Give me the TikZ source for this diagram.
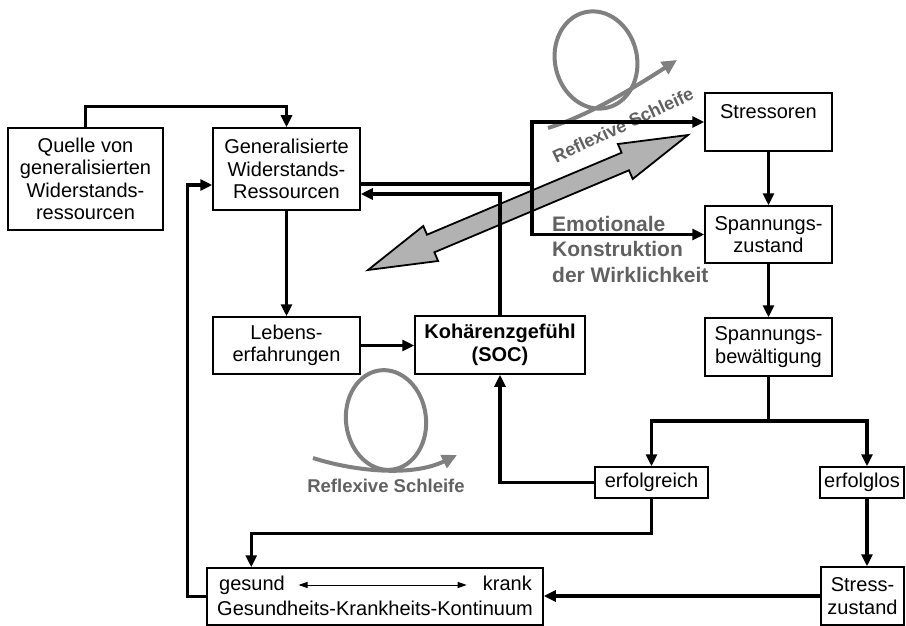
\documentclass[tikz,border=0pt]{standalone}
\usepackage{fontspec}
\setmainfont{Liberation Sans}
\usetikzlibrary{arrows.meta,calc}

\definecolor{loopgray}{gray}{0.5}
\definecolor{labelgray}{gray}{0.38}
\definecolor{arrowfill}{gray}{0.7}

\newcommand{\dgfont}{\fontsize{20}{22.5}\selectfont}
\newcommand{\dgbold}{\fontsize{18.5}{22}\selectfont\bfseries}
\newcommand{\dgboldsmall}{\fontsize{18}{22}\selectfont\bfseries}
\newcommand{\dgemo}{\fontsize{21}{25.5}\selectfont\bfseries}

\begin{document}
\begin{tikzpicture}[x=1pt,y=-1pt,
  box/.style={draw=black,line width=1.5pt,align=center,inner sep=0pt,font=\dgfont},
  txt/.style={inner sep=0pt,font=\dgfont},
  wire/.style={line width=3.2pt},
  conn/.style={wire,-{Triangle[length=12pt,width=11pt]}},
  loopline/.style={draw=loopgray,line width=4pt},
  looparrow/.style={loopline,-{Triangle[length=15pt,width=14pt]}},
  looptext/.style={inner sep=0pt,text=labelgray,font=\dgbold},
]
\useasboundingbox (0,0) rectangle (906,626);

% broad two-headed arrow between the resources and the stressors
\filldraw[fill=arrowfill,draw=black,line width=1.8pt,line join=miter]
  (688,135) -- (632.7,179) -- (629,170.3) -- (434.4,252.3) -- (438.1,261)
  -- (368,270) -- (423.3,226) -- (427,234.7) -- (621.6,152.7) -- (617.9,144) -- cycle;

% upper reflexive loop
\draw[loopline,rotate around={13:(596,60)}] (596,60) ellipse [x radius=41,y radius=49];
\draw[looparrow] (548,128) .. controls (580,118) and (615,100) .. (677,60);
\node[looptext,font=\dgboldsmall,rotate=25] (reflexup) at (623,125) {Reflexive Schleife};

% lower reflexive loop
\draw[loopline,rotate around={7:(386,420)}] (386,420) ellipse [x radius=40,y radius=50];
\draw[looparrow] (313,458) .. controls (350,470) and (410,478) .. (457,455);
\node[looptext] (reflexlow) at (386,486) {Reflexive Schleife};

\node[inner sep=0pt,text=labelgray,font=\dgemo,align=left,anchor=north west] (emotion)
  at (552,216) {Emotionale\\Konstruktion\\der Wirklichkeit};

% boxes
\node[box,minimum width=155pt,minimum height=102pt] (quelle) at (85.5,179)
  {Quelle von\\generalisierten\\Widerstands-\\ressourcen};
\node[box,minimum width=147pt,minimum height=82pt] (gen) at (286.5,169)
  {Generalisierte\\Widerstands-\\Ressourcen};
\node[box,minimum width=147pt,minimum height=57pt] (lebens) at (286.5,345.5)
  {Lebens-\\erfahrungen};
\node[box,minimum width=170pt,minimum height=58pt,font=\dgfont\bfseries] (soc) at (500,345)
  {Kohärenzgefühl\\(SOC)};
\node[box,minimum width=127pt,minimum height=58pt] (stress) at (768.5,122) {};
\node[txt,anchor=base] (stresstext) at (768.5,118) {Stressoren};
\node[box,minimum width=127pt,minimum height=57pt] (spannz) at (768.5,234.5)
  {Spannungs-\\zustand};
\node[box,minimum width=127pt,minimum height=58pt] (spannb) at (768.5,347)
  {Spannungs-\\bewältigung};
\node[box,minimum width=113pt,minimum height=31pt] (erfg) at (651.5,482.5) {erfolgreich};
\node[box,minimum width=84pt,minimum height=31pt] (erfl) at (862,482.5) {erfolglos};
\node[box,minimum width=83pt,minimum height=58pt] (stressz) at (862.5,596)
  {Stress-\\zustand};
\node[box,minimum width=336pt,minimum height=57pt] (ges) at (375,596.5) {};
\node[txt,anchor=base west] (gesund) at (219,590) {gesund};
\node[txt,anchor=base east] (krank) at (532,590) {krank};
\node[txt,anchor=base west] (kontinuum) at (217,615) {Gesundheits-Krankheits-Kontinuum};
\draw[line width=1pt,{Triangle[length=9pt,width=6pt]}-{Triangle[length=9pt,width=6pt]}]
  ([xshift=13.5pt,yshift=5pt]gesund.base east) -- ([xshift=-16pt,yshift=5pt]krank.base west);

% connectors
\coordinate (split) at (532,184);
\coordinate (branch) at (768.5,421);
\draw[conn] (quelle.north) -- ++(0,-21) -| (gen.north);
\draw[wire] ([yshift=-15pt]gen.east) -- (split);
\draw[conn] (split) |- (stress.west);
\draw[conn] (split) |- (spannz.west);
\draw[conn] (soc.north) |- ([yshift=-25pt]gen.east);
\draw[conn] (gen) -- (lebens);
\draw[conn] (lebens.east) -- (soc.west |- lebens.east);
\draw[conn] (stress) -- (spannz);
\draw[conn] (spannz) -- (spannb);
\draw[wire] (spannb.south) -- (branch);
\draw[conn] (branch) -| (erfg.north);
\draw[conn] (branch) -| ([xshift=5pt]erfl.north);
\draw[conn] ([xshift=5pt]erfl.south) -- ([xshift=5pt]erfl.south |- stressz.north);
\draw[conn] (stressz.west) -- (ges.east |- stressz.west);
\draw[conn] (erfg.south) -- ++(0,35) -| ([xshift=45pt]ges.north west);
\draw[conn] (erfg.west) -| (soc.south);
\draw[conn] (ges.west) -- ++(-19,0) |- ([yshift=-16pt]gen.west);
\end{tikzpicture}
\end{document}
